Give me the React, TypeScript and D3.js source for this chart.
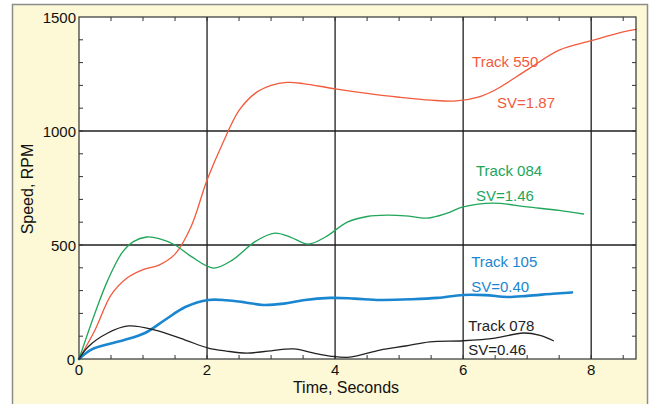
import React from "react";
import * as d3 from "d3";

// Speed vs time for four tracks
const track550T = [0, 0.25, 0.5, 0.75, 1.0, 1.25, 1.5, 1.75, 2.0, 2.25, 2.5, 2.75, 3.0, 3.25, 3.5, 4.0, 4.5, 5.0, 5.5, 5.9, 6.25, 6.5, 7.0, 7.5, 8.0, 8.5, 8.7];
const track550V = [0, 127, 280, 355, 392, 412, 460, 580, 785, 950, 1090, 1165, 1200, 1213, 1208, 1185, 1165, 1148, 1135, 1132, 1150, 1180, 1268, 1355, 1396, 1435, 1446];

const track084T = [0, 0.25, 0.45, 0.67, 0.85, 1.06, 1.25, 1.5, 1.75, 2.1, 2.4, 2.75, 3.06, 3.3, 3.58, 3.85, 4.19, 4.5, 4.81, 5.1, 5.44, 5.75, 6.0, 6.47, 7.0, 7.5, 7.88];
const track084V = [0, 202, 346, 465, 515, 535, 528, 500, 450, 399, 435, 515, 552, 535, 504, 535, 600, 625, 631, 628, 618, 640, 667, 684, 667, 652, 636];

const track105T = [0, 0.2, 0.5, 0.72, 1.03, 1.34, 1.66, 2.02, 2.3, 2.6, 2.88, 3.2, 3.5, 3.92, 4.3, 4.7, 5.2, 5.6, 6.0, 6.35, 6.69, 7.0, 7.4, 7.7];
const track105V = [0, 42, 68, 84, 114, 171, 228, 259, 258, 248, 237, 243, 258, 268, 265, 259, 262, 268, 281, 280, 272, 277, 286, 292];

const track078T = [0, 0.14, 0.45, 0.77, 1.19, 1.66, 2.02, 2.3, 2.62, 3.0, 3.35, 3.7, 3.92, 4.23, 4.7, 5.1, 5.48, 6.0, 6.5, 6.94, 7.2, 7.41];
const track078V = [0, 53, 114, 145, 127, 83, 48, 35, 26, 36, 44, 24, 13, 8, 39, 57, 75, 80, 92, 114, 104, 80];

const xTickLabels = [0, 2, 4, 6, 8];
const yTickLabels = [0, 500, 1000, 1500];
const xGrid = [2, 4, 6, 8];
const yGrid = [500, 1000];

const seriesNames = ["Track 550", "Track 084", "Track 105", "Track 078"];
const seriesSV = ["SV=1.87", "SV=1.46", "SV=0.40", "SV=0.46"];

const W = 654;
const H = 404;
const FONT = "'Liberation Sans', Arial, Helvetica, sans-serif";

const x = d3.scaleLinear().domain([0, 8.7]).range([79, 636]);
const y = d3.scaleLinear().domain([0, 1500]).range([359, 17]);

const series = [
  { name: seriesNames[0], sv: seriesSV[0], t: track550T, v: track550V, color: "#f25a3c", width: 1.3, label: [6.14, 1281], svLabel: [6.53, 1101] },
  { name: seriesNames[1], sv: seriesSV[1], t: track084T, v: track084V, color: "#20a65a", width: 1.3, label: [6.2, 802], svLabel: [6.2, 693] },
  { name: seriesNames[2], sv: seriesSV[2], t: track105T, v: track105V, color: "#1a86d0", width: 2.6, label: [6.125, 403], svLabel: [6.125, 294] },
  { name: seriesNames[3], sv: seriesSV[3], t: track078T, v: track078V, color: "#222222", width: 1.3, label: [6.08, 123], svLabel: [6.08, 18] },
];

const line = d3
  .line<[number, number]>()
  .x((d) => x(d[0]))
  .y((d) => y(d[1]))
  .curve(d3.curveCatmullRom.alpha(0.5));

export default function App() {
  const [x0, x1] = x.range();
  const [y0, y1] = y.range();
  const xMinor = d3.range(0.5, 8.7, 0.5);
  const yMinor = d3.range(100, 1500, 100);
  const tickLen = 4;

  return (
    <svg
      width={W}
      height={H}
      style={{ position: "absolute", left: 0, top: 0, display: "block" }}
      fontFamily={FONT}
    >
      <rect x={12.5} y={4.5} width={635} height={410} fill="#fdf8d5" stroke="#8c8c8c" strokeWidth={1.5} />
      <rect x={x0} y={y1} width={x1 - x0} height={y0 - y1} fill="#ffffff" />

      {/* grid */}
      {xGrid.map((g) => (
        <line key={"gx" + g} x1={x(g)} x2={x(g)} y1={y1} y2={y0} stroke="#1e1e1e" strokeWidth={1.3} />
      ))}
      {yGrid.map((g) => (
        <line key={"gy" + g} x1={x0} x2={x1} y1={y(g)} y2={y(g)} stroke="#1e1e1e" strokeWidth={1.3} />
      ))}

      {/* minor ticks on all four sides */}
      {xMinor.map((t) => (
        <g key={"tx" + t}>
          <line x1={x(t)} x2={x(t)} y1={y0} y2={y0 - tickLen} stroke="#333" strokeWidth={1} />
          <line x1={x(t)} x2={x(t)} y1={y1} y2={y1 + tickLen} stroke="#333" strokeWidth={1} />
        </g>
      ))}
      {yMinor.map((v) => (
        <g key={"ty" + v}>
          <line x1={x0} x2={x0 + tickLen} y1={y(v)} y2={y(v)} stroke="#333" strokeWidth={1} />
          <line x1={x1} x2={x1 - tickLen} y1={y(v)} y2={y(v)} stroke="#333" strokeWidth={1} />
        </g>
      ))}

      {/* series */}
      {series.map((s) => (
        <path
          key={s.name}
          d={line(s.t.map((t, i) => [t, s.v[i]] as [number, number])) || ""}
          fill="none"
          stroke={s.color}
          strokeWidth={s.width}
          strokeLinejoin="round"
          strokeLinecap="round"
        />
      ))}

      <rect x={x0} y={y1} width={x1 - x0} height={y0 - y1} fill="none" stroke="#333" strokeWidth={1.2} />

      {/* tick labels */}
      {xTickLabels.map((t) => (
        <text key={"lx" + t} x={x(t)} y={y0 + 16} textAnchor="middle" fontSize={15} fill="#111">
          {t}
        </text>
      ))}
      {yTickLabels.map((v) => (
        <text key={"ly" + v} x={x0 - (v === 0 ? 4 : 3)} y={y(v) + 5.5} textAnchor="end" fontSize={15} fill="#111">
          {v}
        </text>
      ))}

      {/* axis titles */}
      <text x={346} y={393} textAnchor="middle" fontSize={16} fill="#111">
        Time, Seconds
      </text>
      <text
        transform={`translate(33, 189) rotate(-90)`}
        textAnchor="middle"
        fontSize={16}
        fill="#111"
      >
        Speed, RPM
      </text>

      {/* series labels */}
      {series.map((s) => (
        <g key={"lab" + s.name} fontSize={15} fill={s.color}>
          <text x={x(s.label[0])} y={y(s.label[1])}>{s.name}</text>
          <text x={x(s.svLabel[0])} y={y(s.svLabel[1])}>{s.sv}</text>
        </g>
      ))}
    </svg>
  );
}
